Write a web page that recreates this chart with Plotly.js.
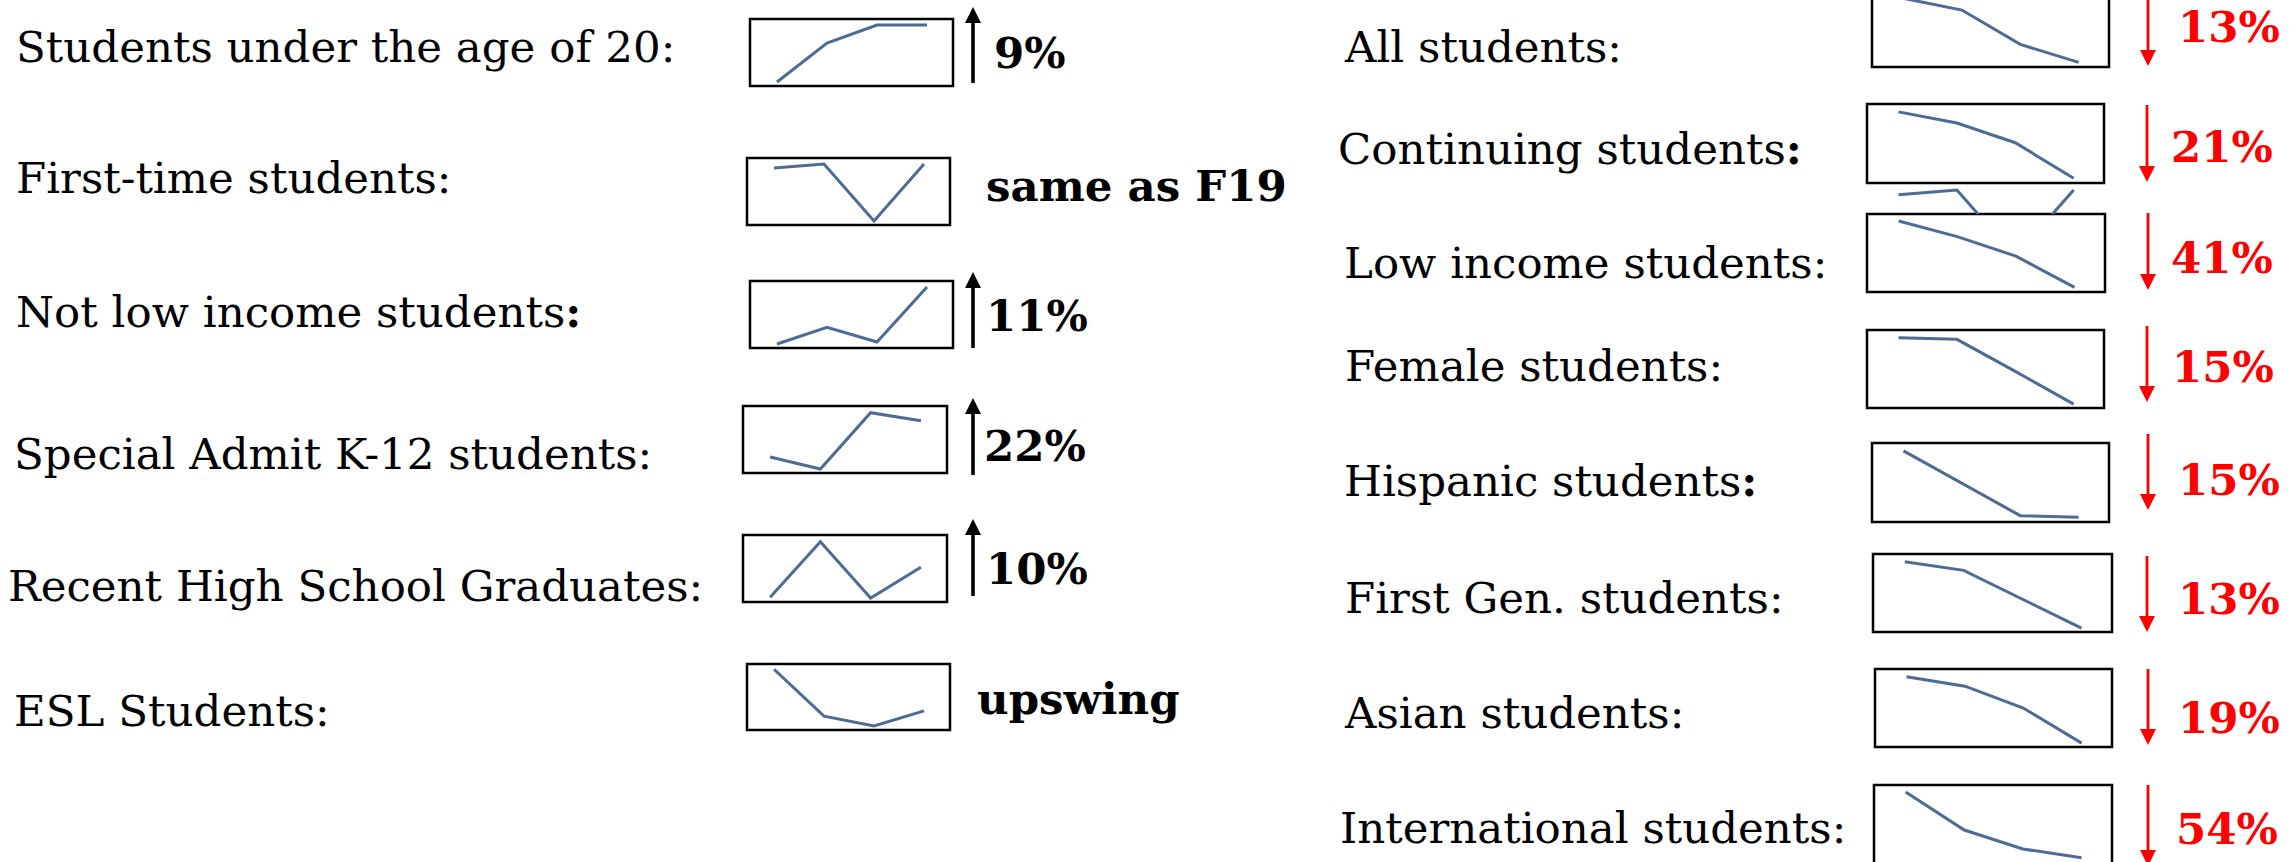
<!DOCTYPE html>
<html>
<head>
<meta charset="utf-8">
<script src="https://cdn.plot.ly/plotly-3.0.1.min.js"></script>
<style>html,body{margin:0;padding:0;background:#fff;}#chart{width:2290px;height:862px;}</style>
</head>
<body>
<div id="chart"></div>
<script>
// ---------- DATA (relative level within each sparkline, 0-100) ----------
const terms = ['F17', 'F18', 'F19', 'F20'];

const under20       = [6, 64, 91, 91];
const firstTime     = [85, 91, 6, 91];
const notLowIncome  = [6, 31, 9, 91];
const specialAdmit  = [24, 6, 90, 78];
const recentHS      = [7, 90, 6, 52];
const esl           = [92, 21, 6, 29];

const allStudents   = [88, 73, 29, 6];
const continuing    = [90, 76, 51, 6];
const lowIncome     = [91, 71, 46, 6];
const female        = [90, 88, 47, 5];
const hispanic      = [90, 49, 8, 6];
const firstGen      = [90, 79, 42, 5];
const asian         = [90, 78, 50, 5];
const international = [91, 43, 19, 8];

const leftLabels = ['Students under the age of 20:', 'First-time students:', 'Not low income students<b>:</b>',
  'Special Admit K-12 students:', 'Recent High School Graduates:', 'ESL Students:'];
const leftChanges = ['9%', 'same as F19', '11%', '22%', '10%', 'upswing'];
const leftUp = [true, false, true, true, true, false];
const leftSeries = [under20, firstTime, notLowIncome, specialAdmit, recentHS, esl];

const rightLabels = ['All students:', 'Continuing students<b>:</b>', 'Low income students:', 'Female students:',
  'Hispanic students<b>:</b>', 'First Gen. students:', 'Asian students:', 'International students:'];
const rightChanges = ['13%', '21%', '41%', '15%', '15%', '13%', '19%', '54%'];
const rightSeries = [allStudents, continuing, lowIncome, female, hispanic, firstGen, asian, international];

// ---------- LAYOUT (pixel geometry) ----------
const W = 2290, H = 862;
const px = x => x / W;
const py = y => 1 - y / H;
const FONT = 'DejaVu Serif';
const FS = 43.5;
const LINE = '#4d6b94';

const leftBoxes = [[750,953,19,86],[747,950,158,225],[750,953,281,348],[743,947,406,473],[743,947,535,602],[747,950,664,730]];
const leftLabelPos = [[15,62],[15,193],[15,327],[13,469],[7,601],[13,726]];
const leftChangePos = [[993,67],[985,200],[985,330],[983,460],[985,583],[976,713]];
const leftArrows = [[973,7,83],null,[973,272,348],[973,398,475],[973,519,596],null];

const rightBoxes = [[1872,2109,-11,67],[1867,2104,104,183],[1867,2105,214,292],[1867,2104,330,408],
  [1872,2109,443,522],[1873,2112,554,632],[1875,2112,669,747],[1874,2112,785,864]];
const rightLabelPos = [[1343,62],[1337,163],[1343,278],[1344,381],[1343,496],[1344,613],[1343,728],[1339,843]];
const rightChangePos = [[2177,42],[2170,161],[2170,272],[2171,381],[2177,494],[2177,613],[2177,732],[2175,843]];
const rightArrows = [[2148,0,66],[2147,105,182],[2148,213,290],[2147,326,402],[2148,434,510],[2147,556,632],[2148,669,745],[2148,785,866]];

const traces = [];
const layout = {
  width: W, height: H, autosize: false,
  margin: {l: 0, r: 0, t: 0, b: 0, pad: 0},
  paper_bgcolor: '#ffffff', plot_bgcolor: 'rgba(0,0,0,0)',
  showlegend: false,
  shapes: [], annotations: []
};

let axisN = 0;
function addSpark(values, box, clip, drawBox) {
  axisN++;
  const [x0, x1, top, bottom] = box;
  const visTop = Math.max(clip ? clip[0] : top, 0);
  const visBot = Math.min(clip ? clip[1] : bottom, H);
  const h = bottom - top;
  const suffix = axisN === 1 ? '' : String(axisN);
  traces.push({
    type: 'scatter', mode: 'lines', x: terms, y: values,
    xaxis: 'x' + suffix, yaxis: 'y' + suffix,
    line: {color: LINE, width: 3}, hoverinfo: 'skip'
  });
  layout['xaxis' + suffix] = {
    domain: [px(x0), px(x1)], anchor: 'y' + suffix, type: 'category',
    categoryarray: terms, range: [-0.54, 3.52], visible: false, fixedrange: true
  };
  layout['yaxis' + suffix] = {
    domain: [py(visBot), py(visTop)], anchor: 'x' + suffix,
    range: [(bottom - visBot) / h * 100, (bottom - visTop) / h * 100], visible: false, fixedrange: true
  };
  if (drawBox) {
    layout.shapes.push({type: 'rect', xref: 'paper', yref: 'paper', layer: 'below',
      x0: px(x0), x1: px(x1), y0: py(bottom), y1: py(top),
      line: {color: '#000', width: 2.5}, fillcolor: 'rgba(0,0,0,0)'});
  }
}

function addArrow(a, up, color, w) {
  const [x, yTop, yBot] = a;
  const hw = 8, hl = 16;
  if (up) {
    layout.shapes.push({type: 'line', xref: 'paper', yref: 'paper', x0: px(x), x1: px(x), y0: py(yBot), y1: py(yTop + hl - 2), line: {color: color, width: w}});
    layout.shapes.push({type: 'path', xref: 'paper', yref: 'paper', fillcolor: color, line: {width: 0},
      path: `M ${px(x - hw)},${py(yTop + hl)} L ${px(x + hw)},${py(yTop + hl)} L ${px(x)},${py(yTop)} Z`});
  } else {
    layout.shapes.push({type: 'line', xref: 'paper', yref: 'paper', x0: px(x), x1: px(x), y0: py(yTop), y1: py(yBot - hl + 2), line: {color: color, width: w}});
    layout.shapes.push({type: 'path', xref: 'paper', yref: 'paper', fillcolor: color, line: {width: 0},
      path: `M ${px(x - hw)},${py(yBot - hl)} L ${px(x + hw)},${py(yBot - hl)} L ${px(x)},${py(yBot)} Z`});
  }
}

function addText(text, pos, bold, color) {
  layout.annotations.push({
    xref: 'paper', yref: 'paper', x: px(pos[0]), y: py(pos[1] - 15),
    xanchor: 'left', yanchor: 'middle', showarrow: false, borderpad: 0,
    text: bold ? '<b>' + text + '</b>' : text,
    font: {family: FONT, size: FS, color: color}
  });
}

// Left column
leftSeries.forEach((s, i) => {
  addSpark(s, leftBoxes[i], null, true);
  addText(leftLabels[i], leftLabelPos[i], false, '#000');
  addText(leftChanges[i], leftChangePos[i], true, '#000');
  if (leftUp[i] && leftArrows[i]) addArrow(leftArrows[i], true, '#000', 3.6);
});

// Right column
rightSeries.forEach((s, i) => {
  addSpark(s, rightBoxes[i], null, true);
  addText(rightLabels[i], rightLabelPos[i], false, '#000');
  addText(rightChanges[i], rightChangePos[i], true, '#ff0000');
  addArrow(rightArrows[i], false, '#ff0000', 2.8);
});

// Stray copy of the first-time sparkline peeking between two boxes
addSpark(firstTime, [1867, 2104, 183, 261], [183, 214], false);

Plotly.newPlot('chart', traces, layout, {staticPlot: true, displayModeBar: false});
</script>
</body>
</html>
